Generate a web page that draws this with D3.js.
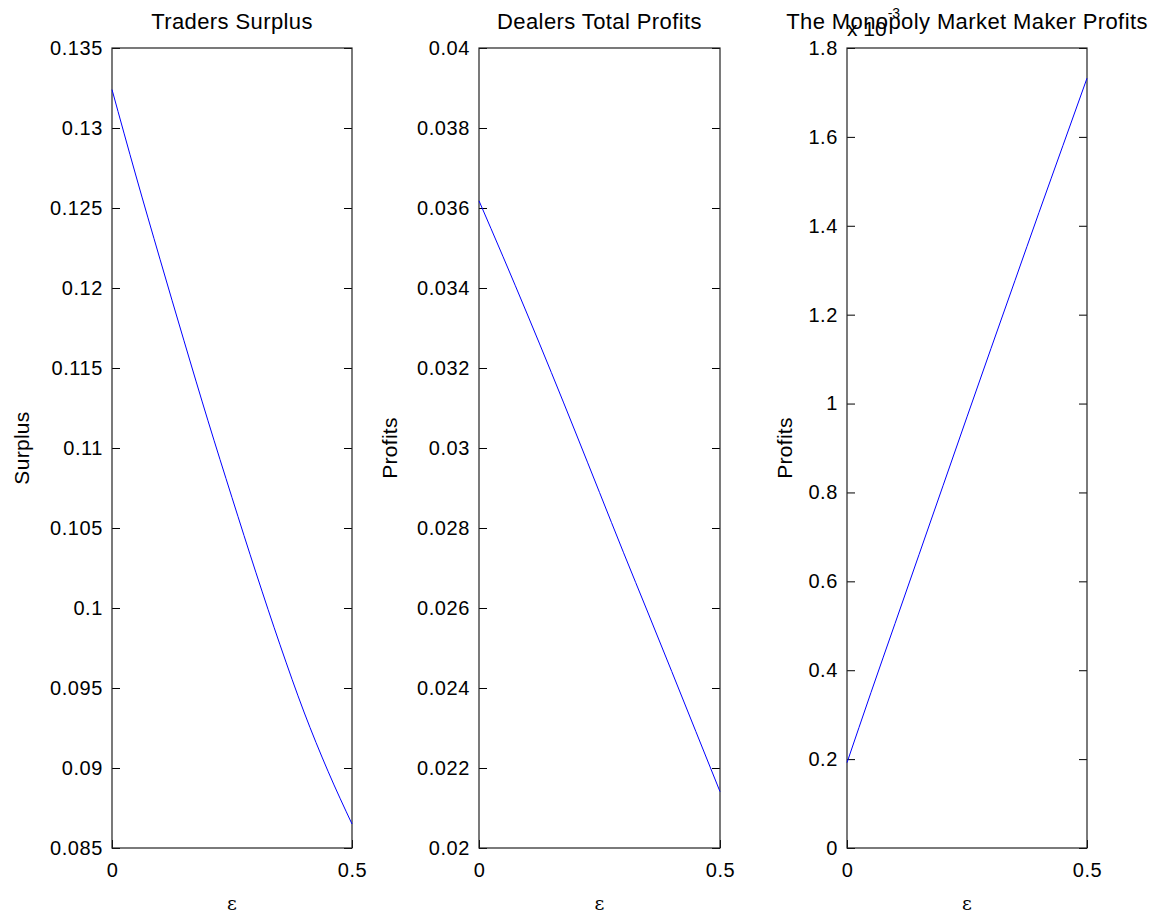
<!DOCTYPE html>
<html>
<head>
<meta charset="utf-8">
<script src="https://cdn.jsdelivr.net/npm/d3@7/dist/d3.min.js"></script>
<style>
  html, body { margin: 0; padding: 0; background: #fff; }
  svg { display: block; font-family: "Liberation Sans", Arial, Helvetica, sans-serif; }
</style>
</head>
<body>
<svg id="chart" width="1158" height="918"></svg>
<script>
// epsilon grid shared by all three panels
const epsilon = [0, 0.05, 0.1, 0.15, 0.2, 0.25, 0.3, 0.35, 0.4, 0.45, 0.5];

// Traders surplus
const surplus = [0.1324, 0.1270, 0.1218, 0.1167, 0.1117, 0.1069, 0.1022, 0.0977, 0.0935, 0.0898, 0.0865];

// Dealers total profits
const dealerProfits = [0.03618, 0.03478, 0.03335, 0.03189, 0.03040, 0.02889, 0.02738, 0.02590, 0.02441, 0.02291, 0.02141];

// Monopoly market maker profits, in units of 1e-3
const monopolyProfits = [0.192, 0.350, 0.505, 0.660, 0.815, 0.970, 1.124, 1.277, 1.430, 1.581, 1.732];

// tick values
const xTicks = [0, 0.5];
const surplusTicks = [0.085, 0.09, 0.095, 0.1, 0.105, 0.11, 0.115, 0.12, 0.125, 0.13, 0.135];
const dealerTicks = [0.02, 0.022, 0.024, 0.026, 0.028, 0.03, 0.032, 0.034, 0.036, 0.038, 0.04];
const monopolyTicks = [0, 0.2, 0.4, 0.6, 0.8, 1, 1.2, 1.4, 1.6, 1.8];

const titles = ["Traders Surplus", "Dealers Total Profits", "The Monopoly Market Maker Profits"];
const yLabels = ["Surplus", "Profits", "Profits"];

const svg = d3.select("#chart");
const plotTop = 48, plotBottom = 848;
const panels = [
  { left: 112, right: 352, values: surplus, ticks: surplusTicks, domain: [0.085, 0.135], labelX: 22 },
  { left: 479, right: 720, values: dealerProfits, ticks: dealerTicks, domain: [0.02, 0.04], labelX: 390 },
  { left: 847, right: 1087, values: monopolyProfits, ticks: monopolyTicks, domain: [0, 1.8], labelX: 785 }
];

const fmt = v => String(+v.toFixed(4));
const tickLen = 8;

panels.forEach((p, i) => {
  const x = d3.scaleLinear().domain([0, 0.5]).range([p.left, p.right]);
  const y = d3.scaleLinear().domain(p.domain).range([plotBottom, plotTop]);
  const g = svg.append("g");

  // left axis with inward ticks
  const yAxisL = g.append("g").attr("transform", `translate(${p.left},0)`)
    .call(d3.axisLeft(y).tickValues(p.ticks).tickFormat(fmt).tickSize(-tickLen).tickPadding(9));
  // right axis, ticks only
  const yAxisR = g.append("g").attr("transform", `translate(${p.right},0)`)
    .call(d3.axisRight(y).tickValues(p.ticks).tickFormat("").tickSize(-tickLen));
  // bottom axis
  const xAxis = g.append("g").attr("transform", `translate(0,${plotBottom})`)
    .call(d3.axisBottom(x).tickValues(xTicks).tickFormat(d => String(d)).tickSize(-tickLen).tickPadding(10));

  [yAxisL, yAxisR, xAxis].forEach(a => {
    a.select(".domain").remove();
    a.selectAll("line").attr("stroke", "#000").attr("stroke-width", 1);
    a.selectAll("text").attr("fill", "#000").style("font-size", "20px")
      .style("letter-spacing", "0.6px")
      .style("font-family", "'Liberation Sans', Arial, sans-serif");
  });
  xAxis.selectAll("text").attr("dy", "0.95em");

  // box
  g.append("rect")
    .attr("x", p.left).attr("y", plotTop)
    .attr("width", p.right - p.left).attr("height", plotBottom - plotTop)
    .attr("fill", "none").attr("stroke", "#222").attr("stroke-width", 1.2);

  // series line
  const line = d3.line().x((d, k) => x(epsilon[k])).y(d => y(d)).curve(d3.curveMonotoneX);
  g.append("path").datum(p.values)
    .attr("d", line)
    .attr("fill", "none").attr("stroke", "#0000ff").attr("stroke-width", 1);

  // title
  g.append("text")
    .attr("x", (p.left + p.right) / 2).attr("y", 29)
    .attr("text-anchor", "middle").style("font-size", "22px")
    .style("letter-spacing", "0.4px")
    .text(titles[i]);

  // x label
  g.append("text")
    .attr("x", (p.left + p.right) / 2).attr("y", 910)
    .attr("text-anchor", "middle").style("font-size", "19px")
    .style("font-family", "'DejaVu Serif', serif")
    .text("ε");

  // y label
  g.append("text")
    .attr("transform", `translate(${p.labelX + 7},${(plotTop + plotBottom) / 2}) rotate(-90)`)
    .attr("text-anchor", "middle").style("font-size", "21px")
    .style("letter-spacing", "0.3px")
    .text(yLabels[i]);
});

// exponent annotation for the third panel
const expo = svg.append("text").attr("x", 847).attr("y", 36).style("font-size", "21px");
expo.append("tspan").text("x 10");
expo.append("tspan").attr("dy", -18).attr("dx", 1).style("font-size", "14px").text("-3");
</script>
</body>
</html>
